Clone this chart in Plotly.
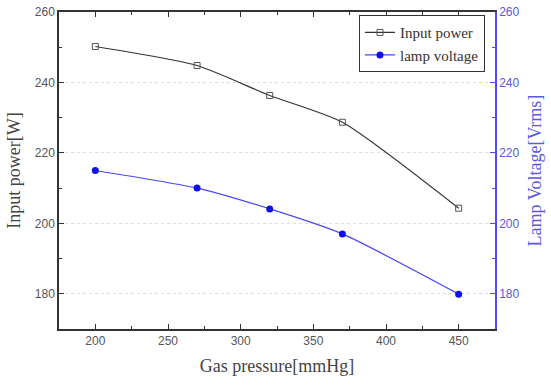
import plotly.graph_objects as go

pressure = [200, 270, 320, 370, 450]
input_power = [250.2, 244.8, 236.3, 228.7, 204.3]
lamp_voltage = [215.0, 210.0, 204.1, 197.0, 179.9]

serif = "Liberation Serif"
sans = "Liberation Sans"
blue_axis = "#4b4bf0"

fig = go.Figure()
fig.add_trace(go.Scatter(
    x=pressure, y=input_power, name="Input power", mode="lines+markers",
    line=dict(color="#333333", width=1.2, shape="spline", smoothing=0.6),
    marker=dict(symbol="square-open", size=6, color="#555555", line=dict(width=1)),
    yaxis="y"))
fig.add_trace(go.Scatter(
    x=pressure, y=lamp_voltage, name="lamp voltage", mode="lines+markers",
    line=dict(color="#4848f0", width=1.2, shape="spline", smoothing=0.6),
    marker=dict(symbol="circle", size=7, color="#1010f0"),
    yaxis="y2"))

fig.update_layout(
    width=551, height=385,
    margin=dict(l=59, r=56, t=5, b=56),
    paper_bgcolor="white", plot_bgcolor="white",
    showlegend=True,
    legend=dict(x=0.977, y=0.99, xanchor="right", yanchor="top",
                bgcolor="white", bordercolor="#333333", borderwidth=1,
                font=dict(family=serif, size=15, color="#333333"),
                tracegroupgap=0),
    xaxis=dict(range=[175, 475], tickvals=[200, 250, 300, 350, 400, 450],
               showline=True, linecolor="#333333", linewidth=1.5, mirror="ticks",
               ticks="inside", ticklen=5, tickcolor="#333333",
               minor=dict(dtick=25, tick0=175, ticks="inside", ticklen=3, tickcolor="#333333"),
               showgrid=False, zeroline=False,
               tickfont=dict(family=sans, size=12, color="#555555"),
               title=dict(text="Gas pressure[mmHg]", font=dict(family=serif, size=18, color="#444444"), standoff=12)),
    yaxis=dict(range=[170, 260], tickvals=[180, 200, 220, 240, 260],
               showline=True, linecolor="#333333", linewidth=1.5,
               ticks="inside", ticklen=5, tickcolor="#333333",
               minor=dict(dtick=10, tick0=170, ticks="inside", ticklen=3, tickcolor="#333333", showgrid=False),
               showgrid=True, gridcolor="#dddddd", griddash="dot", gridwidth=1, zeroline=False,
               tickfont=dict(family=sans, size=12, color="#555555"),
               title=dict(text="Input power[W]", font=dict(family=serif, size=18, color="#444444"), standoff=10)),
    yaxis2=dict(range=[170, 260], tickvals=[180, 200, 220, 240, 260], overlaying="y", side="right",
                showline=True, linecolor=blue_axis, linewidth=1.5,
                ticks="inside", ticklen=5, tickcolor=blue_axis,
                minor=dict(dtick=10, tick0=170, ticks="inside", ticklen=3, tickcolor=blue_axis),
                showgrid=False, zeroline=False,
                tickfont=dict(family=sans, size=12, color="#5858d8"),
                title=dict(text="Lamp Voltage[Vrms]", font=dict(family=serif, size=18, color="#5a5ae0"), standoff=10)),
)

fig.write_html("out.html")
